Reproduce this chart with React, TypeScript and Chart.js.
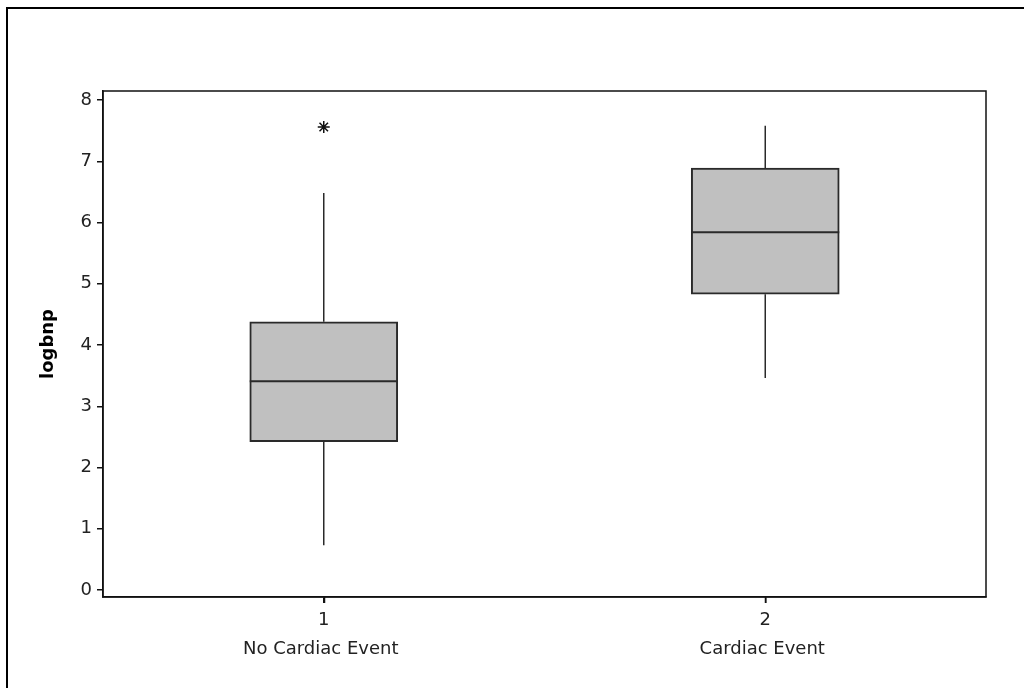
import React, { useEffect, useRef } from "react";
import { Chart, registerables } from "chart.js";

Chart.register(...registerables);

const positions = [1, 2];
const groupNames = ["No Cardiac Event", "Cardiac Event"];
const whiskerLow = [0.73, 3.46];
const q1 = [2.42, 4.83];
const median = [3.41, 5.84];
const q3 = [4.38, 6.89];
const whiskerHigh = [6.48, 7.58];
const outlierX = [1];
const outlierY = [7.56];
const yTicks = [0, 1, 2, 3, 4, 5, 6, 7, 8];
const yTitle = "logbnp";

const FONT = "'DejaVu Sans', Verdana, sans-serif";

const boxPlugin = {
  id: "boxExtras",
  afterDatasetsDraw(chart: any) {
    const ctx = chart.ctx;
    const y = chart.scales.y;
    const x = chart.scales.x;
    const meta = chart.getDatasetMeta(0);
    ctx.save();
    ctx.strokeStyle = "#2a2a2a";
    meta.data.forEach((bar: any, i: number) => {
      const cx = bar.x;
      const w = bar.width;
      ctx.lineWidth = 1.5;
      ctx.beginPath();
      ctx.moveTo(cx, y.getPixelForValue(q3[i]));
      ctx.lineTo(cx, y.getPixelForValue(whiskerHigh[i]));
      ctx.moveTo(cx, y.getPixelForValue(q1[i]));
      ctx.lineTo(cx, y.getPixelForValue(whiskerLow[i]));
      ctx.stroke();
      ctx.lineWidth = 2;
      ctx.beginPath();
      const my = y.getPixelForValue(median[i]);
      ctx.moveTo(cx - w / 2, my);
      ctx.lineTo(cx + w / 2, my);
      ctx.stroke();
    });
    const a = chart.chartArea;
    ctx.strokeStyle = "#111";
    ctx.lineWidth = 1.5;
    ctx.strokeRect(a.left, a.top, a.right - a.left, a.bottom - a.top);
    // x tick marks
    ctx.beginPath();
    positions.forEach((p) => {
      const px = Math.round(x.getPixelForValue(p)) + 0.5;
      ctx.moveTo(px, a.bottom);
      ctx.lineTo(px, a.bottom + 6);
    });
    ctx.stroke();
    ctx.fillStyle = "#222";
    ctx.font = "18px " + FONT;
    ctx.textAlign = "center";
    ctx.textBaseline = "middle";
    positions.forEach((p, i) => {
      ctx.fillText(groupNames[i], x.getPixelForValue(p) - 3, a.bottom + 52);
    });
    ctx.restore();
  },
};

export default function App() {
  const ref = useRef<HTMLCanvasElement | null>(null);
  useEffect(() => {
    document.body.style.margin = "0";
    const canvas = ref.current!;
    const chart = new Chart(canvas, {
      type: "bar",
      data: {
        datasets: [
          {
            type: "bar",
            data: positions.map((p, i) => ({ x: p, y: [q1[i], q3[i]] })) as any,
            backgroundColor: "#c0c0c0",
            borderColor: "#2a2a2a",
            borderWidth: 2,
            borderSkipped: false,
            barThickness: 148,
            grouped: false,
          } as any,
          {
            type: "scatter",
            data: outlierX.map((p, i) => ({ x: p, y: outlierY[i] })),
            pointStyle: "star",
            radius: 6,
            borderColor: "#111",
            backgroundColor: "#111",
            borderWidth: 1.5,
          } as any,
        ],
      },
      options: {
        animation: false,
        responsive: false,
        maintainAspectRatio: false,
        layout: { padding: { top: 91, right: 38, left: 0, bottom: 0 } },
        plugins: { legend: { display: false }, tooltip: { enabled: false } },
        scales: {
          x: {
            type: "linear",
            min: 0.5,
            max: 2.5,
            offset: false,
            afterBuildTicks: (s: any) => {
              s.ticks = positions.map((v) => ({ value: v }));
            },
            afterFit: (s: any) => {
              s.height = 91;
            },
            grid: { offset: false, drawOnChartArea: false, drawTicks: true, tickLength: 6, color: "#111", lineWidth: 1.5 },
            border: { display: true, color: "#111", width: 1.5 },
            ticks: {
              color: "#222",
              font: { family: FONT, size: 18 },
              padding: 7,
              maxRotation: 0,
              callback: (v: any) => String(v),
            },
          },
          y: {
            type: "linear",
            min: -0.114,
            max: 8.147,
            afterBuildTicks: (s: any) => {
              s.ticks = yTicks.map((v) => ({ value: v }));
            },
            afterFit: (s: any) => {
              s.width = 103;
            },
            grid: { drawOnChartArea: false, drawTicks: true, tickLength: 6, color: "#111", lineWidth: 1.5 },
            border: { display: true, color: "#111", width: 1.5 },
            ticks: {
              color: "#222",
              font: { family: FONT, size: 18 },
              padding: 5,
              callback: (v: any) => String(v),
            },
            title: {
              display: true,
              text: yTitle,
              color: "#000",
              font: { family: FONT, size: 18, weight: "bold" },
              padding: { top: 38, bottom: 0 },
            },
          },
        },
      } as any,
      plugins: [boxPlugin],
    });
    return () => chart.destroy();
  }, []);

  return (
    <div style={{ position: "relative", width: 1024, height: 688, overflow: "hidden", background: "#fff" }}>
      <div
        style={{
          position: "absolute",
          left: 6,
          top: 7,
          right: -20,
          bottom: -20,
          borderTop: "2px solid #000",
          borderLeft: "2px solid #000",
        }}
      />
      <canvas ref={ref} width={1024} height={688} style={{ position: "absolute", left: 0, top: 0, width: 1024, height: 688 }} />
    </div>
  );
}
